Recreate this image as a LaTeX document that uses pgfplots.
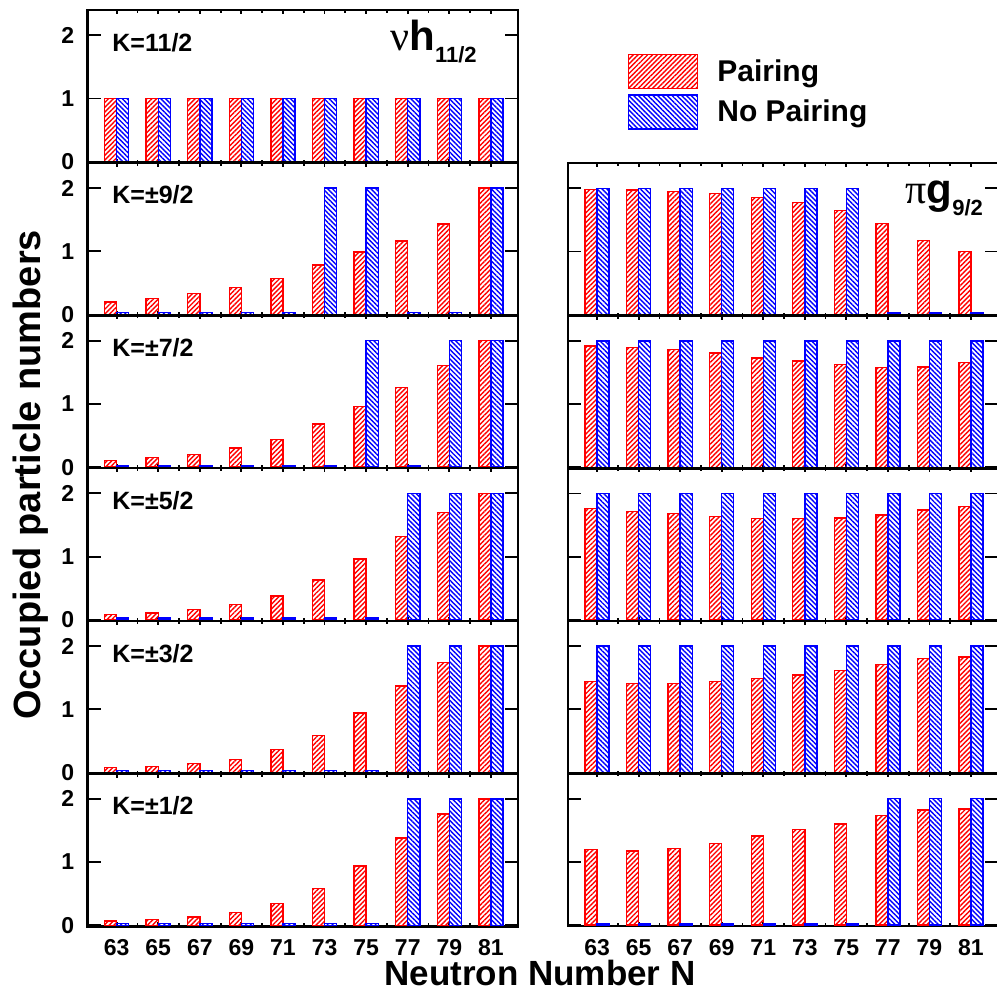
\documentclass[border=0pt]{standalone}
\usepackage{pgfplots}
\pgfplotsset{compat=1.18}
\usepackage{pgfplotstable}
\usetikzlibrary{patterns.meta}
\usepackage{fontspec}
\setmainfont{Liberation Sans}
\newfontfamily\grk{Liberation Serif}

% Left column (nu h11/2)
\pgfplotstableread{
N P NP
63 1 1
65 1 1
67 1 1
69 1 1
71 1 1
73 1 1
75 1 1
77 1 1
79 1 1
81 1 1
}\La
\pgfplotstableread{
N P NP
63 0.20 0.03
65 0.25 0.03
67 0.33 0.03
69 0.43 0.03
71 0.57 0.03
73 0.78 2
75 0.99 2
77 1.16 0.03
79 1.43 0.03
81 2.00 2
}\Lb
\pgfplotstableread{
N P NP
63 0.11 0.03
65 0.15 0.03
67 0.20 0.03
69 0.30 0.03
71 0.44 0.03
73 0.68 0.03
75 0.96 2
77 1.26 0.03
79 1.61 2
81 2.00 2
}\Lc
\pgfplotstableread{
N P NP
63 0.085 0.03
65 0.11 0.03
67 0.16 0.03
69 0.245 0.03
71 0.38 0.03
73 0.63 0.03
75 0.96 0.03
77 1.32 2
79 1.70 2
81 2.00 2
}\Ld
\pgfplotstableread{
N P NP
63 0.08 0.03
65 0.10 0.03
67 0.14 0.03
69 0.21 0.03
71 0.36 0.03
73 0.59 0.03
75 0.94 0.03
77 1.37 2
79 1.74 2
81 2.00 2
}\Le
\pgfplotstableread{
N P NP
63 0.07 0.03
65 0.09 0.03
67 0.13 0.03
69 0.20 0.03
71 0.34 0.03
73 0.58 0.03
75 0.94 0.03
77 1.38 2
79 1.76 2
81 2.00 2
}\Lf
% Right column (pi g9/2)
\pgfplotstableread{
N P NP
63 1.98 2
65 1.97 2
67 1.95 2
69 1.92 2
71 1.85 2
73 1.78 2
75 1.65 2
77 1.44 0.03
79 1.17 0.03
81 1.00 0.03
}\Ra
\pgfplotstableread{
N P NP
63 1.92 2
65 1.90 2
67 1.86 2
69 1.81 2
71 1.73 2
73 1.68 2
75 1.63 2
77 1.58 2
79 1.59 2
81 1.66 2
}\Rb
\pgfplotstableread{
N P NP
63 1.76 2
65 1.72 2
67 1.68 2
69 1.64 2
71 1.60 2
73 1.60 2
75 1.61 2
77 1.66 2
79 1.74 2
81 1.79 2
}\Rc
\pgfplotstableread{
N P NP
63 1.44 2
65 1.41 2
67 1.41 2
69 1.44 2
71 1.49 2
73 1.54 2
75 1.61 2
77 1.71 2
79 1.80 2
81 1.83 2
}\Rd
\pgfplotstableread{
N P NP
63 1.20 0.03
65 1.17 0.03
67 1.21 0.03
69 1.29 0.03
71 1.41 0.03
73 1.51 0.03
75 1.60 0.03
77 1.73 2
79 1.82 2
81 1.84 2
}\Re

\pgfplotsset{
  panel/.style={
    scale only axis, height=76.35pt,
    xmin=61.6, xmax=82.3, ymin=-0.015, ymax=2.4,
    anchor=north west,
    axis line style={line width=1.3pt},
    every tick/.style={black, line width=0.9pt},
    tick align=inside, xtick pos=both, ytick pos=both,
    xtick={63,65,...,81}, minor x tick num=1, ytick={0,1,2},
    major tick length=6.5pt, minor tick length=1.5pt,
    xtick style={/pgfplots/major tick length=2pt},
    tick label style={font=\fontsize{11.5}{13}\selectfont\bfseries},
    /pgf/number format/assume math mode=true,
    yticklabel style={inner sep=0pt, xshift=-6.5pt},
    xticklabel style={inner sep=0pt, yshift=-6.5pt},
  },
  leftp/.style={panel, width=215.25pt},
  rightp/.style={panel, width=215pt, yticklabels={}},
  noxl/.style={xticklabels={}},
  pbar/.style={ybar, bar width=0.58, bar shift=-0.29, draw=red, line width=0.7pt,
    pattern={Lines[angle=45,distance=1.7pt,line width=0.7pt]}, pattern color=red},
  npbar/.style={ybar, bar width=0.58, bar shift=0.29, draw=blue, line width=0.7pt,
    pattern={Lines[angle=-45,distance=1.7pt,line width=0.7pt]}, pattern color=blue},
}
\newcommand{\klab}[1]{\node[anchor=base west, inner sep=0pt] at (rel axis cs:0.057,0.73) {\fontsize{12.5}{15}\selectfont\bfseries #1};}

\begin{document}
\begin{tikzpicture}
\useasboundingbox (0,0) rectangle (498.5pt,-495.5pt);

% ---------- left column ----------
\begin{axis}[leftp, noxl, at={(43.75pt,-5pt)}]
\addplot[pbar] table[x=N,y=P] {\La};
\addplot[npbar] table[x=N,y=NP] {\La};
\klab{K=11/2}
\node[anchor=base west, inner sep=0pt] at (rel axis cs:0.7027,0.738)
  {\fontsize{21}{24}\selectfont{\grk ν}\bfseries h\raisebox{-6pt}{\fontsize{11}{13}\selectfont 11/2}};
\end{axis}

\begin{axis}[leftp, noxl, at={(43.75pt,-81.35pt)}]
\addplot[pbar] table[x=N,y=P] {\Lb};
\addplot[npbar] table[x=N,y=NP] {\Lb};
\klab{K=±9/2}
\end{axis}

\begin{axis}[leftp, noxl, at={(43.75pt,-157.7pt)}]
\addplot[pbar] table[x=N,y=P] {\Lc};
\addplot[npbar] table[x=N,y=NP] {\Lc};
\klab{K=±7/2}
\end{axis}

\begin{axis}[leftp, noxl, at={(43.75pt,-234.05pt)}]
\addplot[pbar] table[x=N,y=P] {\Ld};
\addplot[npbar] table[x=N,y=NP] {\Ld};
\klab{K=±5/2}
\end{axis}

\begin{axis}[leftp, noxl, at={(43.75pt,-310.4pt)}]
\addplot[pbar] table[x=N,y=P] {\Le};
\addplot[npbar] table[x=N,y=NP] {\Le};
\klab{K=±3/2}
\end{axis}

\begin{axis}[leftp, at={(43.75pt,-386.75pt)}]
\addplot[pbar] table[x=N,y=P] {\Lf};
\addplot[npbar] table[x=N,y=NP] {\Lf};
\klab{K=±1/2}
\end{axis}

% ---------- right column ----------
\begin{axis}[rightp, noxl, at={(284pt,-81.5pt)},
  legend style={at={(axis description cs:0.1395,1.714)}, anchor=north west,
    draw=none, fill=none, inner sep=0pt, outer sep=0pt,
    column sep=7.5pt, row sep=2.5pt,
    font=\fontsize{15}{18}\selectfont\bfseries},
  legend cell align=left]
\addlegendimage{legend image code/.code={\draw[draw=red,line width=0.7pt,pattern={Lines[angle=45,distance=1.7pt,line width=0.7pt]},pattern color=red] (0pt,-8.5pt) rectangle (34.5pt,8.5pt);}}
\addlegendentry{Pairing}
\addlegendimage{legend image code/.code={\draw[draw=blue,line width=0.7pt,pattern={Lines[angle=-45,distance=1.7pt,line width=0.7pt]},pattern color=blue] (0pt,-8.5pt) rectangle (34.5pt,8.5pt);}}
\addlegendentry{No Pairing}
\addplot[pbar] table[x=N,y=P] {\Ra};
\addplot[npbar] table[x=N,y=NP] {\Ra};
\node[anchor=base west, inner sep=0pt] at (rel axis cs:0.784,0.738)
  {\fontsize{21}{24}\selectfont{\grk π}\bfseries g\raisebox{-6pt}{\fontsize{11}{13}\selectfont 9/2}};
\end{axis}

\begin{axis}[rightp, noxl, at={(284pt,-157.8pt)}]
\addplot[pbar] table[x=N,y=P] {\Rb};
\addplot[npbar] table[x=N,y=NP] {\Rb};
\end{axis}

\begin{axis}[rightp, noxl, at={(284pt,-234.1pt)}]
\addplot[pbar] table[x=N,y=P] {\Rc};
\addplot[npbar] table[x=N,y=NP] {\Rc};
\end{axis}

\begin{axis}[rightp, noxl, at={(284pt,-310.4pt)}]
\addplot[pbar] table[x=N,y=P] {\Rd};
\addplot[npbar] table[x=N,y=NP] {\Rd};
\end{axis}

\begin{axis}[rightp, at={(284pt,-386.7pt)}]
\addplot[pbar] table[x=N,y=P] {\Re};
\addplot[npbar] table[x=N,y=NP] {\Re};
\end{axis}

% axis titles
\node[rotate=90, anchor=base] at (20pt,-237.5pt) {\fontsize{19}{22}\selectfont\bfseries Occupied particle numbers};
\node[anchor=base] at (270pt,-492.6pt) {\fontsize{17.5}{21}\selectfont\bfseries Neutron Number N};
\end{tikzpicture}
\end{document}
